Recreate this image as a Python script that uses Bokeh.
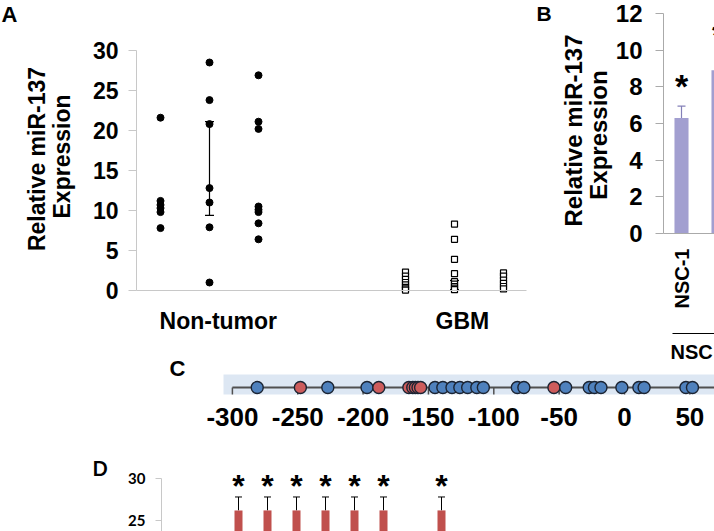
import math
from bokeh.plotting import figure
from bokeh.models import (Range1d, FixedTicker, ColumnDataSource, Label, LabelSet,
                          Whisker, TeeHead, LinearAxis)
from bokeh.layouts import column, row
from bokeh.embed import file_html
from bokeh.resources import INLINE
from bokeh.core.properties import value

FONT = "Liberation Sans"

# ---------------- Panel A data ----------------
a_nt_col1 = [21.6, 11.2, 10.7, 10.3, 9.8, 7.8]
a_nt_col2 = [28.5, 23.8, 20.8, 12.8, 11.0, 7.9, 1.0]
a_nt_col3 = [26.9, 21.1, 20.2, 10.5, 10.1, 9.8, 8.4, 6.4]
a_gbm_col1 = [2.3, 1.8, 1.4, 1.0, 0.7, 0.4, 0.2, 0.05]
a_gbm_col2 = [8.3, 6.4, 3.9, 2.1, 1.1, 0.8, 0.5, 0.3, 0.1]
a_gbm_col3 = [2.2, 1.8, 1.3, 0.9, 0.5, 0.2]
a_nt_slots = [1, 2, 3]
a_gbm_slots = [6, 7, 8]
a_err_slot = [2, 7]
a_err_lo = [9.4, 0.1]
a_err_hi = [21.1, 1.25]
a_groups = ["Non-tumor", "GBM"]
a_group_label_pos = [2.18, 7.16]
a_yticks = [0, 5, 10, 15, 20, 25, 30]

# ---------------- Panel B data ----------------
b_cats = ["NSC-1", "NSC-2"]
b_slots = [1, 2]
b_vals = [6.3, 8.9]
b_err = [0.65, 0.85]
b_yticks = [0, 2, 4, 6, 8, 10, 12]
b_group = "NSC"

# ---------------- Panel C data ----------------
c_blue_sites = [-281, -227, -197, -145, -139, -132, -126, -120, -113, -108,
                -82, -77, -45, -27, -23, -18, -2, 11, 15, 47, 52]
c_red_sites = [-248, -188, -165, -162, -160, -158, -156, -54]
c_ticks = [-300, -250, -200, -150, -100, -50, 0, 50]

# ---------------- Panel D data ----------------
d_slots = [1, 2, 3, 4, 5, 6, 8]
d_vals = [26.2, 26.2, 26.2, 26.2, 26.2, 26.2, 26.2]
d_err = [1.6, 1.6, 1.6, 1.6, 1.6, 1.6, 1.6]
d_yticks = [25, 30]

TOP_ROW_BOTTOM = 340
C_BOTTOM = 440


class Map:
    """Page-pixel <-> data mapping for one panel (frame fills the whole canvas)."""
    def __init__(self, px0, vx0, xppu, py0, vy0, yppu, left, right, top, bottom):
        self.px0, self.vx0, self.xppu = px0, vx0, xppu
        self.py0, self.vy0, self.yppu = py0, vy0, yppu
        self.left, self.right, self.top, self.bottom = left, right, top, bottom

    def x(self, px):
        return self.vx0 + (px - self.px0) / self.xppu

    def y(self, py):
        return self.vy0 + (self.py0 - py) / self.yppu

    def fig(self):
        p = figure(width=self.right - self.left, height=self.bottom - self.top,
                   x_range=Range1d(self.x(self.left), self.x(self.right)),
                   y_range=Range1d(self.y(self.bottom), self.y(self.top)),
                   x_axis_location=None, y_axis_location=None, min_border=0,
                   output_backend="svg", toolbar_location=None, title=None)
        p.grid.visible = False
        p.outline_line_color = None
        p.background_fill_color = "white"
        p.border_fill_color = "white"
        return p


def style_axis(ax, size, color, tick_out, standoff, font=FONT):
    ax.axis_line_color = color
    ax.axis_line_width = 1
    ax.major_tick_line_color = color
    ax.major_tick_out = tick_out
    ax.major_tick_in = 0
    ax.minor_tick_out = 0
    ax.minor_tick_in = 0
    ax.major_label_text_font = font
    ax.major_label_text_font_style = "bold"
    ax.major_label_text_font_size = size
    ax.major_label_text_color = "black"
    ax.major_label_standoff = standoff


def add_label(p, m, px, py, text, size, font=FONT, angle=0, align="left"):
    p.add_layout(Label(x=m.x(px), y=m.y(py), text=text, text_font=font, text_font_style="bold",
                       text_font_size=size, text_color="black", angle=angle,
                       text_align=align, text_baseline="middle"))


# ================= Panel A =================
mA = Map(160, 1, 49, 290, 0, 8, 0, 535, 0, TOP_ROW_BOTTOM)
pA = mA.fig()

for slot, vals in zip(a_nt_slots, [a_nt_col1, a_nt_col2, a_nt_col3]):
    pA.scatter([slot] * len(vals), vals, size=7, color="black")
for slot, vals in zip(a_gbm_slots, [a_gbm_col1, a_gbm_col2, a_gbm_col3]):
    pA.scatter([slot] * len(vals), vals, marker="square", size=6, fill_color="white",
               line_color="black", line_width=1.2)

srcA = ColumnDataSource(dict(base=a_err_slot, lower=a_err_lo, upper=a_err_hi))
pA.add_layout(Whisker(base="base", lower="lower", upper="upper", source=srcA,
                      line_color="black", line_width=1.2,
                      upper_head=TeeHead(size=9, line_color="black", line_width=1.2),
                      lower_head=TeeHead(size=9, line_color="black", line_width=1.2)))

ayA = LinearAxis(fixed_location=mA.x(136), bounds=(a_yticks[0], a_yticks[-1]),
                 ticker=FixedTicker(ticks=a_yticks))
style_axis(ayA, "23px", "#c8c8c8", 8, 10)
pA.add_layout(ayA, "left")
axA = LinearAxis(fixed_location=0, bounds=(mA.x(136), mA.x(526)),
                 ticker=FixedTicker(ticks=a_group_label_pos),
                 major_label_overrides={pos: n for pos, n in zip(a_group_label_pos, a_groups)})
style_axis(axA, "23px", "#c8c8c8", 0, 17)
pA.add_layout(axA, "below")

add_label(pA, mA, 1, 13.5, "A", "22px")
add_label(pA, mA, 36.5, 158.5, "Relative miR-137", "23px", angle=math.pi / 2, align="center")
add_label(pA, mA, 61, 156, "Expression", "23px", angle=math.pi / 2, align="center")

# ================= Panel B =================
mB = Map(681, 1, 37, 233, 0, 220 / 12, 535, 714, 0, TOP_ROW_BOTTOM)
pB = mB.fig()

b_top = [v + e for v, e in zip(b_vals, b_err)]
srcB = ColumnDataSource(dict(x=b_slots, val=b_vals, top=b_top, star=["*"] * len(b_slots)))
pB.vbar(x="x", top="val", width=0.38, source=srcB, fill_color="#a29fd0", line_color=None)
pB.add_layout(Whisker(base="x", lower="val", upper="top", source=srcB,
                      line_color="#8480b8", line_width=1.2, lower_head=None,
                      upper_head=TeeHead(size=8, line_color="#8480b8", line_width=1.2)))
pB.add_layout(LabelSet(x="x", y="top", text="star", source=srcB, y_offset=8,
                       text_font=value(FONT), text_font_style="bold", text_font_size="34px",
                       text_align="center", text_baseline="alphabetic", text_color="black"))

ayB = LinearAxis(fixed_location=mB.x(663), bounds=(b_yticks[0], b_yticks[-1]),
                 ticker=FixedTicker(ticks=b_yticks))
style_axis(ayB, "24px", "#aaaaaa", 8, 13)
pB.add_layout(ayB, "left")
axB = LinearAxis(fixed_location=0, bounds=(mB.x(663), mB.x(714)),
                 ticker=FixedTicker(ticks=b_slots),
                 major_label_overrides={s: c for s, c in zip(b_slots, b_cats)},
                 major_label_orientation=math.pi / 2)
style_axis(axB, "20px", "#aaaaaa", 0, 15)
pB.add_layout(axB, "below")

add_label(pB, mB, 536, 12.5, "B", "21px")
add_label(pB, mB, 573, 130, "Relative miR-137", "24px", angle=math.pi / 2, align="center")
add_label(pB, mB, 597.5, 134.5, "Expression", "24px", angle=math.pi / 2, align="center")
pB.segment(x0=mB.x(672), y0=mB.y(333), x1=mB.x(714), y1=mB.y(333),
           line_color="black", line_width=1.2)

# ================= Panel C =================
mC = Map(624, 0, 1.307, 394, 0, 20, 0, 714, TOP_ROW_BOTTOM, C_BOTTOM)
pC = mC.fig()
LINE_Y = 0.35
pC.quad(left=mC.x(223), right=mC.x(714), bottom=0, top=1, fill_color="#dde7f3", line_color=None)
pC.segment(x0=c_ticks[0], y0=LINE_Y, x1=mC.x(714), y1=LINE_Y, line_color="#505050", line_width=2)
pC.segment(x0=c_ticks, y0=[LINE_Y] * len(c_ticks), x1=c_ticks, y1=[0] * len(c_ticks),
           line_color="#505050", line_width=1.5)
sites = sorted([(s, "#4f81bd") for s in c_blue_sites] + [(s, "#cd5c5c") for s in c_red_sites])
pC.scatter([s for s, _ in sites], [LINE_Y] * len(sites), size=12,
           fill_color=[c for _, c in sites], line_color="#1b2433", line_width=1.4)

axC = LinearAxis(fixed_location=0, ticker=FixedTicker(ticks=c_ticks),
                 major_label_overrides={t: str(t) for t in c_ticks})
style_axis(axC, "26px", None, 0, 13)
pC.add_layout(axC, "below")
add_label(pC, mC, 169, 367.5, "C", "22px")
# group label belonging to panel B's x axis (sits just above panel C)
add_label(pC, mC, 670, 351, b_group, "20px")

# ================= Panel D =================
mD = Map(238, 1, 29, 478, 30, 8.4, 0, 714, C_BOTTOM, 531)
pD = mD.fig()

d_top = [v + e for v, e in zip(d_vals, d_err)]
srcD = ColumnDataSource(dict(x=d_slots, val=d_vals, top=d_top, star=["*"] * len(d_slots)))
pD.add_layout(Whisker(base="x", lower="val", upper="top", source=srcD,
                      line_color="black", line_width=1, lower_head=None,
                      upper_head=TeeHead(size=7, line_color="black", line_width=1)))
pD.vbar(x="x", top="val", bottom=mD.y(531), width=0.276, source=srcD,
        fill_color="#c0504d", line_color=None)
pD.add_layout(LabelSet(x="x", y="top", text="star", source=srcD, y_offset=0,
                       text_font=value(FONT), text_font_style="bold", text_font_size="32px",
                       text_align="center", text_baseline="alphabetic", text_color="black"))
ayD = LinearAxis(fixed_location=mD.x(161), bounds=(mD.y(531), d_yticks[-1]),
                 ticker=FixedTicker(ticks=d_yticks))
style_axis(ayD, "15px", "#c8c8c8", 6, 10, font="Lato")
pD.add_layout(ayD, "left")
add_label(pD, mD, 92, 467, "D", "20px", font="Lato")

layout = column(row(pA, pB), pC, pD)
open("out.html", "w").write(file_html(layout, INLINE))
